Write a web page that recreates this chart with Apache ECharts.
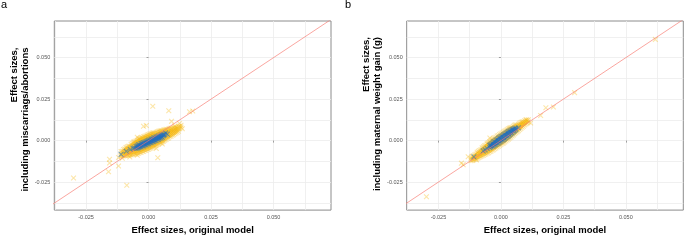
<!DOCTYPE html>
<html>
<head>
<meta charset="utf-8">
<script src="https://cdn.jsdelivr.net/npm/echarts/dist/echarts.min.js"></script>
<style>
  html, body { margin: 0; padding: 0; background: #fff; }
  #chart { width: 685px; height: 240px; }
</style>
</head>
<body>
<div id="chart"></div>
<script>
// axis range shared by both panels
var axisRange = { xMin: -0.0377, xMax: 0.073, yMin: -0.0419, yMax: 0.0721 };
var majorTicks = [-0.025, 0, 0.025, 0.05];
var gridValues = [-0.0375, -0.025, -0.0125, 0, 0.0125, 0.025, 0.0375, 0.05, 0.0625];
var identityLine = [[-0.05, -0.05], [0.08, 0.08]];

// panel a : orange = all SNPs, blue = significant ones
var aOrange = [
  [-0.011,-0.0094],[-0.011,-0.008],[-0.011,-0.0066],
  [-0.010,-0.0092],[-0.010,-0.0079],[-0.010,-0.0066],[-0.010,-0.0054],
  [-0.009,-0.0091],[-0.009,-0.0078],[-0.009,-0.0065],[-0.009,-0.0052],[-0.009,-0.0042],
  [-0.008,-0.009],[-0.008,-0.0076],[-0.008,-0.0062],[-0.008,-0.0048],[-0.008,-0.0034],
  [-0.007,-0.0087],[-0.007,-0.0073],[-0.007,-0.006],[-0.007,-0.0047],[-0.007,-0.0034],[-0.007,-0.0022],
  [-0.006,-0.0084],[-0.006,-0.007],[-0.006,-0.0057],[-0.006,-0.0044],[-0.006,-0.0031],[-0.006,-0.0018],[-0.006,-0.0009],
  [-0.005,-0.008],[-0.005,-0.0067],[-0.005,-0.0054],[-0.005,-0.0041],[-0.005,-0.0028],[-0.005,-0.0015],[-0.005,-0.0002],
  [-0.004,-0.0076],[-0.004,-0.0063],[-0.004,-0.005],[-0.004,-0.0037],[-0.004,-0.0024],[-0.004,-0.0011],[-0.004,0.0002],[-0.004,0.0009],
  [-0.003,-0.0071],[-0.003,-0.0058],[-0.003,-0.0045],[-0.003,-0.0032],[-0.003,-0.0019],[-0.003,-0.0006],[-0.003,0.0007],[-0.003,0.0016],
  [-0.002,-0.0065],[-0.002,-0.0052],[-0.002,-0.0039],[-0.002,-0.0026],[-0.002,-0.0013],[-0.002,0],[-0.002,0.0013],[-0.002,0.0023],
  [-0.001,-0.0059],[-0.001,-0.0046],[-0.001,-0.0033],[-0.001,-0.002],[-0.001,-0.0007],[-0.001,0.0006],[-0.001,0.0019],[-0.001,0.0029],
  [0,-0.0052],[0,-0.0039],[0,-0.0026],[0,-0.0013],[0,0],[0,0.0013],[0,0.0026],[0,0.0036],
  [0.001,-0.0045],[0.001,-0.0032],[0.001,-0.0019],[0.001,-0.0006],[0.001,0.0007],[0.001,0.002],[0.001,0.0033],[0.001,0.0042],
  [0.002,-0.0038],[0.002,-0.0025],[0.002,-0.0012],[0.002,0.0001],[0.002,0.0014],[0.002,0.0027],[0.002,0.004],[0.002,0.0047],
  [0.003,-0.0029],[0.003,-0.0016],[0.003,-0.0003],[0.003,0.001],[0.003,0.0023],[0.003,0.0036],[0.003,0.0049],
  [0.004,-0.0021],[0.004,-0.0008],[0.004,0.0005],[0.004,0.0018],[0.004,0.0031],[0.004,0.0044],[0.004,0.0056],
  [0.005,-0.0012],[0.005,0.0001],[0.005,0.0014],[0.005,0.0027],[0.005,0.004],[0.005,0.0053],[0.005,0.0061],
  [0.006,-0.0003],[0.006,0.001],[0.006,0.0023],[0.006,0.0036],[0.006,0.0049],[0.006,0.0063],
  [0.007,0.0007],[0.007,0.002],[0.007,0.0033],[0.007,0.0046],[0.007,0.0059],[0.007,0.0068],
  [0.008,0.0016],[0.008,0.0029],[0.008,0.0042],[0.008,0.0055],[0.008,0.0069],
  [0.009,0.0026],[0.009,0.0039],[0.009,0.0052],[0.009,0.0065],[0.009,0.0075],
  [0.010,0.0036],[0.010,0.0049],[0.010,0.0062],[0.010,0.0076],
  [0.011,0.0046],[0.011,0.0059],[0.011,0.0072],[0.011,0.0082],
  [0.012,0.0056],[0.012,0.007],[0.012,0.0084],
  [0.013,0.008],[0.013,0.0093],
  [-0.012,-0.0102],[-0.0105,-0.0106],[-0.0075,-0.0099],[-0.0045,-0.0088],[0.0031,-0.0048],
  [0.0055,-0.002],[-0.0045,0.002],[0.0105,0.0088],[0.0124,0.0103],[0.0135,0.0072],
  [0.0017,0.0207],[0.0081,0.018],[0.0164,0.0174],[0.0177,0.0178],[-0.002,0.0087],[-0.0009,0.0091],
  [0.0092,0.0116],[0.0037,-0.0103],[-0.0156,-0.0112],[-0.0156,-0.0135],[-0.016,-0.0188],
  [-0.012,-0.0153],[-0.03,-0.0225],[-0.0087,-0.0269]
];
// extra orange points in between the columns above (dense body)
var aOrangeMid = [
  [-0.0105,-0.0091],[-0.0105,-0.0078],[-0.0105,-0.0065],
  [-0.0095,-0.009],[-0.0095,-0.0077],[-0.0095,-0.0064],[-0.0095,-0.0051],
  [-0.0085,-0.0088],[-0.0085,-0.0075],[-0.0085,-0.0062],[-0.0085,-0.0049],[-0.0085,-0.0038],
  [-0.0075,-0.0086],[-0.0075,-0.0073],[-0.0075,-0.006],[-0.0075,-0.0047],[-0.0075,-0.0034],
  [-0.0065,-0.0083],[-0.0065,-0.007],[-0.0065,-0.0057],[-0.0065,-0.0044],[-0.0065,-0.0031],[-0.0065,-0.0018],
  [-0.0055,-0.008],[-0.0055,-0.0067],[-0.0055,-0.0054],[-0.0055,-0.0041],[-0.0055,-0.0028],[-0.0055,-0.0015],[-0.0055,-0.0006],
  [-0.0045,-0.0076],[-0.0045,-0.0063],[-0.0045,-0.005],[-0.0045,-0.0037],[-0.0045,-0.0024],[-0.0045,-0.0011],[-0.0045,0.0002],
  [-0.0035,-0.0072],[-0.0035,-0.0059],[-0.0035,-0.0046],[-0.0035,-0.0033],[-0.0035,-0.002],[-0.0035,-0.0007],[-0.0035,0.0006],[-0.0035,0.0012],
  [-0.0025,-0.0066],[-0.0025,-0.0053],[-0.0025,-0.004],[-0.0025,-0.0027],[-0.0025,-0.0014],[-0.0025,-0.0001],[-0.0025,0.0012],[-0.0025,0.0019],
  [-0.0015,-0.006],[-0.0015,-0.0047],[-0.0015,-0.0034],[-0.0015,-0.0021],[-0.0015,-0.0008],[-0.0015,0.0005],[-0.0015,0.0018],[-0.0015,0.0026],
  [-0.0005,-0.0054],[-0.0005,-0.0041],[-0.0005,-0.0028],[-0.0005,-0.0015],[-0.0005,-0.0002],[-0.0005,0.0011],[-0.0005,0.0024],[-0.0005,0.0033],
  [0.0005,-0.0047],[0.0005,-0.0034],[0.0005,-0.0021],[0.0005,-0.0008],[0.0005,0.0005],[0.0005,0.0018],[0.0005,0.0031],[0.0005,0.0039],
  [0.0015,-0.004],[0.0015,-0.0027],[0.0015,-0.0014],[0.0015,-0.0001],[0.0015,0.0012],[0.0015,0.0025],[0.0015,0.0038],[0.0015,0.0045],
  [0.0025,-0.0032],[0.0025,-0.0019],[0.0025,-0.0006],[0.0025,0.0007],[0.0025,0.002],[0.0025,0.0033],[0.0025,0.0046],
  [0.0035,-0.0023],[0.0035,-0.001],[0.0035,0.0003],[0.0035,0.0016],[0.0035,0.0029],[0.0035,0.0042],[0.0035,0.0053],
  [0.0045,-0.0015],[0.0045,-0.0002],[0.0045,0.0011],[0.0045,0.0024],[0.0045,0.0037],[0.0045,0.005],[0.0045,0.0058],
  [0.0055,-0.0006],[0.0055,0.0007],[0.0055,0.002],[0.0055,0.0033],[0.0055,0.0046],[0.0055,0.0059],
  [0.0065,0.0003],[0.0065,0.0016],[0.0065,0.0029],[0.0065,0.0042],[0.0065,0.0055],[0.0065,0.0065],
  [0.0075,0.0013],[0.0075,0.0026],[0.0075,0.0039],[0.0075,0.0052],[0.0075,0.0066],
  [0.0085,0.0023],[0.0085,0.0036],[0.0085,0.0049],[0.0085,0.0062],[0.0085,0.0072],
  [0.0095,0.0032],[0.0095,0.0045],[0.0095,0.0058],[0.0095,0.0071],
  [0.0105,0.0042],[0.0105,0.0055],[0.0105,0.0068],[0.0105,0.0078],
  [0.0115,0.0051],[0.0115,0.0064],[0.0115,0.0077],
  [0.0125,0.0072],[0.0125,0.0086]
];
var aBlue = [
  [-0.011,-0.0083],[-0.0089,-0.0064],[-0.0073,-0.0054],[-0.0062,-0.0046],[-0.0056,-0.0045],
  [-0.005,-0.0048],[-0.005,-0.0036],[-0.0045,-0.0044],[-0.0045,-0.0032],
  [-0.004,-0.0043],[-0.004,-0.0034],[-0.004,-0.0025],[-0.0035,-0.0038],[-0.0035,-0.0026],
  [-0.003,-0.0038],[-0.003,-0.0028],[-0.003,-0.0018],[-0.0025,-0.0033],[-0.0025,-0.0016],
  [-0.002,-0.0032],[-0.002,-0.0021],[-0.002,-0.0011],[-0.0015,-0.0026],[-0.0015,-0.001],
  [-0.001,-0.0026],[-0.001,-0.0015],[-0.001,-0.0005],[-0.0005,-0.002],[-0.0005,-0.0003],
  [0,-0.0019],[0,-0.0008],[0,0.0002],[0.0005,-0.0013],[0.0005,0.0003],
  [0.001,-0.0012],[0.001,-0.0001],[0.001,0.0009],[0.0015,-0.0006],[0.0015,0.001],
  [0.002,-0.0005],[0.002,0.0005],[0.002,0.0015],[0.0025,0],[0.0025,0.0017],
  [0.003,0.0001],[0.003,0.0012],[0.003,0.0021],[0.0035,0.0007],[0.0035,0.0023],
  [0.004,0.0009],[0.004,0.0018],[0.004,0.0027],[0.0045,0.0014],[0.0045,0.0028],
  [0.005,0.0016],[0.005,0.0025],[0.005,0.0033],[0.0055,0.0021],[0.0055,0.0034],
  [0.006,0.0029],[0.006,0.0037],[0.0065,0.0035],[0.0068,0.0046],[0.0075,0.0039]
];

// panel b
var bOrange = [
  [-0.012,-0.0122],[-0.012,-0.0108],
  [-0.011,-0.0116],[-0.011,-0.0103],[-0.011,-0.0091],
  [-0.010,-0.011],[-0.010,-0.0096],[-0.010,-0.0082],
  [-0.009,-0.0103],[-0.009,-0.009],[-0.009,-0.0077],[-0.009,-0.0065],
  [-0.008,-0.0095],[-0.008,-0.0082],[-0.008,-0.0069],[-0.008,-0.0056],
  [-0.007,-0.0088],[-0.007,-0.0075],[-0.007,-0.0062],[-0.007,-0.0049],[-0.007,-0.0038],
  [-0.006,-0.0081],[-0.006,-0.0068],[-0.006,-0.0055],[-0.006,-0.0042],[-0.006,-0.0029],
  [-0.005,-0.0073],[-0.005,-0.006],[-0.005,-0.0047],[-0.005,-0.0034],[-0.005,-0.0021],[-0.005,-0.0013],
  [-0.004,-0.0064],[-0.004,-0.0051],[-0.004,-0.0038],[-0.004,-0.0025],[-0.004,-0.0012],[-0.004,0.0001],
  [-0.003,-0.0055],[-0.003,-0.0042],[-0.003,-0.0029],[-0.003,-0.0016],[-0.003,-0.0003],[-0.003,0.001],
  [-0.002,-0.0045],[-0.002,-0.0032],[-0.002,-0.0019],[-0.002,-0.0006],[-0.002,0.0007],[-0.002,0.002],
  [-0.001,-0.0034],[-0.001,-0.0021],[-0.001,-0.0008],[-0.001,0.0005],[-0.001,0.0018],[-0.001,0.0031],
  [0,-0.0024],[0,-0.0011],[0,0.0002],[0,0.0015],[0,0.0028],[0,0.0041],
  [0.001,-0.0014],[0.001,-0.0001],[0.001,0.0012],[0.001,0.0025],[0.001,0.0038],[0.001,0.0051],
  [0.002,-0.0002],[0.002,0.0011],[0.002,0.0024],[0.002,0.0037],[0.002,0.005],[0.002,0.0061],
  [0.003,0.0009],[0.003,0.0022],[0.003,0.0035],[0.003,0.0048],[0.003,0.0061],[0.003,0.0071],
  [0.004,0.0021],[0.004,0.0034],[0.004,0.0047],[0.004,0.006],[0.004,0.0073],[0.004,0.0079],
  [0.005,0.0034],[0.005,0.0047],[0.005,0.006],[0.005,0.0073],[0.005,0.0086],
  [0.006,0.0047],[0.006,0.006],[0.006,0.0073],[0.006,0.0086],[0.006,0.0095],
  [0.007,0.006],[0.007,0.0073],[0.007,0.0086],[0.007,0.0099],
  [0.008,0.0073],[0.008,0.0086],[0.008,0.0099],[0.008,0.0109],
  [0.009,0.0087],[0.009,0.01],[0.009,0.0113],
  [0.010,0.01],[0.010,0.0113],[0.010,0.0124],
  [0.011,0.0113],[0.011,0.0125],
  [0.0119,0.0106],[0.0103,0.0126],[-0.0131,-0.0097],[-0.0098,-0.0116],[-0.0044,0.0016],
  [-0.0158,-0.0136],[-0.0151,-0.0145],[-0.0298,-0.0339],[0.0159,0.0151],[0.018,0.0198],
  [0.021,0.0203],[0.0295,0.0289],[0.0618,0.061]
];
var bOrangeMid = [
  [-0.0115,-0.012],[-0.0115,-0.0107],[-0.0115,-0.0095],
  [-0.0105,-0.0113],[-0.0105,-0.01],[-0.0105,-0.0087],
  [-0.0095,-0.0106],[-0.0095,-0.0093],[-0.0095,-0.008],[-0.0095,-0.007],
  [-0.0085,-0.0099],[-0.0085,-0.0086],[-0.0085,-0.0073],[-0.0085,-0.006],
  [-0.0075,-0.0091],[-0.0075,-0.0078],[-0.0075,-0.0065],[-0.0075,-0.0052],[-0.0075,-0.0043],
  [-0.0065,-0.0084],[-0.0065,-0.0071],[-0.0065,-0.0058],[-0.0065,-0.0045],[-0.0065,-0.0032],
  [-0.0055,-0.0076],[-0.0055,-0.0063],[-0.0055,-0.005],[-0.0055,-0.0037],[-0.0055,-0.0024],[-0.0055,-0.0017],
  [-0.0045,-0.0067],[-0.0045,-0.0054],[-0.0045,-0.0041],[-0.0045,-0.0028],[-0.0045,-0.0015],[-0.0045,-0.0005],
  [-0.0035,-0.0058],[-0.0035,-0.0045],[-0.0035,-0.0032],[-0.0035,-0.0019],[-0.0035,-0.0006],[-0.0035,0.0006],
  [-0.0025,-0.0049],[-0.0025,-0.0036],[-0.0025,-0.0023],[-0.0025,-0.001],[-0.0025,0.0003],[-0.0025,0.0016],
  [-0.0015,-0.0038],[-0.0015,-0.0025],[-0.0015,-0.0012],[-0.0015,0.0001],[-0.0015,0.0014],[-0.0015,0.0027],
  [-0.0005,-0.0028],[-0.0005,-0.0015],[-0.0005,-0.0002],[-0.0005,0.0011],[-0.0005,0.0024],[-0.0005,0.0037],
  [0.0005,-0.0018],[0.0005,-0.0005],[0.0005,0.0008],[0.0005,0.0021],[0.0005,0.0034],[0.0005,0.0046],
  [0.0015,-0.0008],[0.0015,0.0005],[0.0015,0.0018],[0.0015,0.0031],[0.0015,0.0044],[0.0015,0.0056],
  [0.0025,0.0004],[0.0025,0.0017],[0.0025,0.003],[0.0025,0.0043],[0.0025,0.0056],[0.0025,0.0066],
  [0.0035,0.0016],[0.0035,0.0029],[0.0035,0.0042],[0.0035,0.0055],[0.0035,0.0068],[0.0035,0.0075],
  [0.0045,0.0028],[0.0045,0.0041],[0.0045,0.0054],[0.0045,0.0067],[0.0045,0.008],
  [0.0055,0.0041],[0.0055,0.0054],[0.0055,0.0067],[0.0055,0.008],[0.0055,0.0092],
  [0.0065,0.0054],[0.0065,0.0067],[0.0065,0.008],[0.0065,0.0093],
  [0.0075,0.0067],[0.0075,0.008],[0.0075,0.0093],[0.0075,0.0105],
  [0.0085,0.0081],[0.0085,0.0094],[0.0085,0.0107],[0.0085,0.0114],
  [0.0095,0.0094],[0.0095,0.0107],[0.0095,0.0119],
  [0.0105,0.0107],[0.0105,0.0119]
];
var bBlue = [
  [-0.0108,-0.0097],[-0.0071,-0.0062],[-0.0063,-0.0056],[-0.0055,-0.0048],
  [-0.0045,-0.0043],[-0.0045,-0.0029],[-0.004,-0.0039],[-0.004,-0.0031],[-0.004,-0.0023],
  [-0.0035,-0.0034],[-0.0035,-0.0018],[-0.003,-0.0033],[-0.003,-0.0021],[-0.003,-0.0009],
  [-0.0025,-0.0026],[-0.0025,-0.0006],[-0.002,-0.0024],[-0.002,-0.0011],[-0.002,0.0002],
  [-0.0015,-0.0017],[-0.0015,0.0006],[-0.001,-0.0014],[-0.001,0],[-0.001,0.0014],
  [-0.0005,-0.0008],[-0.0005,0.0018],[0,-0.0004],[0,0.001],[0,0.0024],
  [0.0005,0.0002],[0.0005,0.0028],[0.001,0.0006],[0.001,0.002],[0.001,0.0034],
  [0.0015,0.0012],[0.0015,0.0038],[0.002,0.0017],[0.002,0.0031],[0.002,0.0044],
  [0.0025,0.0023],[0.0025,0.0049],[0.003,0.0028],[0.003,0.0041],[0.003,0.0054],
  [0.0035,0.0034],[0.0035,0.0058],[0.004,0.004],[0.004,0.0051],[0.004,0.0062],
  [0.0045,0.0046],[0.0045,0.0066],[0.005,0.0053],[0.005,0.0069],
  [0.0055,0.006],[0.0055,0.0073],[0.006,0.0066],[0.006,0.0076],[0.007,0.0077],[0.0049,0.0062]
];

var crossSymbol = 'path://M0,0L10,10M10,0L0,10';
var tickFmt = function (v) { return v.toFixed(3); };
var titleFont = 'bold 9.5px "Liberation Sans"';
var orangeColor = 'rgba(245,180,0,0.42)';
var blueColor = 'rgba(28,108,196,0.7)';

function mainX(gridIndex) {
  return {
    type: 'value', gridIndex: gridIndex, position: 'bottom',
    min: axisRange.xMin, max: axisRange.xMax,
    name: 'Effect sizes, original model', nameLocation: 'middle', nameGap: 11,
    nameTextStyle: { fontFamily: 'Liberation Sans', fontWeight: 'bold', fontSize: 9.5, color: '#000', verticalAlign: 'top' },
    axisLine: { show: false },
    axisTick: { show: false, customValues: gridValues },
    axisLabel: { customValues: majorTicks, formatter: tickFmt, fontFamily: 'Liberation Sans', fontSize: 5.5, color: '#555', margin: 4 },
    splitLine: { show: true, lineStyle: { color: '#ececec', width: 0.8 } }
  };
}
function tickX(gridIndex) {
  return {
    type: 'value', gridIndex: gridIndex, position: 'bottom',
    min: axisRange.xMin, max: axisRange.xMax,
    axisLine: { show: false },
    axisTick: { show: true, customValues: majorTicks, length: 2, lineStyle: { color: '#666', width: 0.6 } },
    axisLabel: { show: false }, splitLine: { show: false }
  };
}
function mainY(gridIndex) {
  return {
    type: 'value', gridIndex: gridIndex, position: 'left',
    min: axisRange.yMin, max: axisRange.yMax,
    axisLine: { show: false },
    axisTick: { show: false, customValues: gridValues },
    axisLabel: { customValues: majorTicks, formatter: tickFmt, fontFamily: 'Liberation Sans', fontSize: 5.5, color: '#555', margin: 4 },
    splitLine: { show: true, lineStyle: { color: '#ececec', width: 0.8 } }
  };
}
function tickY(gridIndex) {
  return {
    type: 'value', gridIndex: gridIndex, position: 'left',
    min: axisRange.yMin, max: axisRange.yMax,
    axisLine: { show: false },
    axisTick: { show: true, customValues: majorTicks, length: 2, lineStyle: { color: '#666', width: 0.6 } },
    axisLabel: { show: false }, splitLine: { show: false }
  };
}
function points(data, color, axisIdx) {
  return {
    type: 'scatter', xAxisIndex: axisIdx, yAxisIndex: axisIdx, data: data,
    symbol: crossSymbol, symbolSize: 4.8, silent: true,
    itemStyle: { color: 'transparent', borderColor: color, borderWidth: 1.1 }
  };
}
function diagonal(axisIdx) {
  return {
    type: 'line', xAxisIndex: axisIdx, yAxisIndex: axisIdx, data: identityLine,
    showSymbol: false, silent: true, clip: true, z: 5,
    lineStyle: { color: '#f8766d', width: 1, opacity: 0.65 }
  };
}
// rotated two-line y title, lines end-aligned at the top like the original
function yTitle(x, top, text) {
  return {
    type: 'text', x: x, y: top, rotation: Math.PI / 2,
    style: { text: text, font: titleFont, fill: '#000', align: 'right', verticalAlign: 'middle', lineHeight: 11 }
  };
}

var chart = echarts.init(document.getElementById('chart'), null, { renderer: 'canvas' });
chart.setOption({
  animation: false,
  backgroundColor: '#fff',
  title: [
    { text: 'a', left: 1, top: -1, padding: 0, textStyle: { fontFamily: 'Liberation Sans', fontSize: 11, fontWeight: 'normal', color: '#000' } },
    { text: 'b', left: 345, top: -1, padding: 0, textStyle: { fontFamily: 'Liberation Sans', fontSize: 11, fontWeight: 'normal', color: '#000' } }
  ],
  graphic: [
    yTitle(19.5, 47.5, 'Effect sizes,\nincluding miscarriags/abortions'),
    yTitle(372, 37, 'Effect sizes,\nincluding maternal weight gain (g)')
  ],
  grid: [
    { left: 54.3, top: 21, width: 276.7, height: 196, show: true, borderColor: '#8c8c8c', borderWidth: 1, backgroundColor: '#fff' },
    { left: 406.7, top: 21, width: 276.6, height: 196, show: true, borderColor: '#8c8c8c', borderWidth: 1, backgroundColor: '#fff' }
  ],
  xAxis: [mainX(0), tickX(0), mainX(1), tickX(1)],
  yAxis: [mainY(0), tickY(0), mainY(1), tickY(1)],
  series: [
    points(aOrange.concat(aOrangeMid), orangeColor, 0),
    points(aBlue, blueColor, 0),
    diagonal(0),
    points(bOrange.concat(bOrangeMid), orangeColor, 2),
    points(bBlue, blueColor, 2),
    diagonal(2)
  ]
});
</script>
</body>
</html>
